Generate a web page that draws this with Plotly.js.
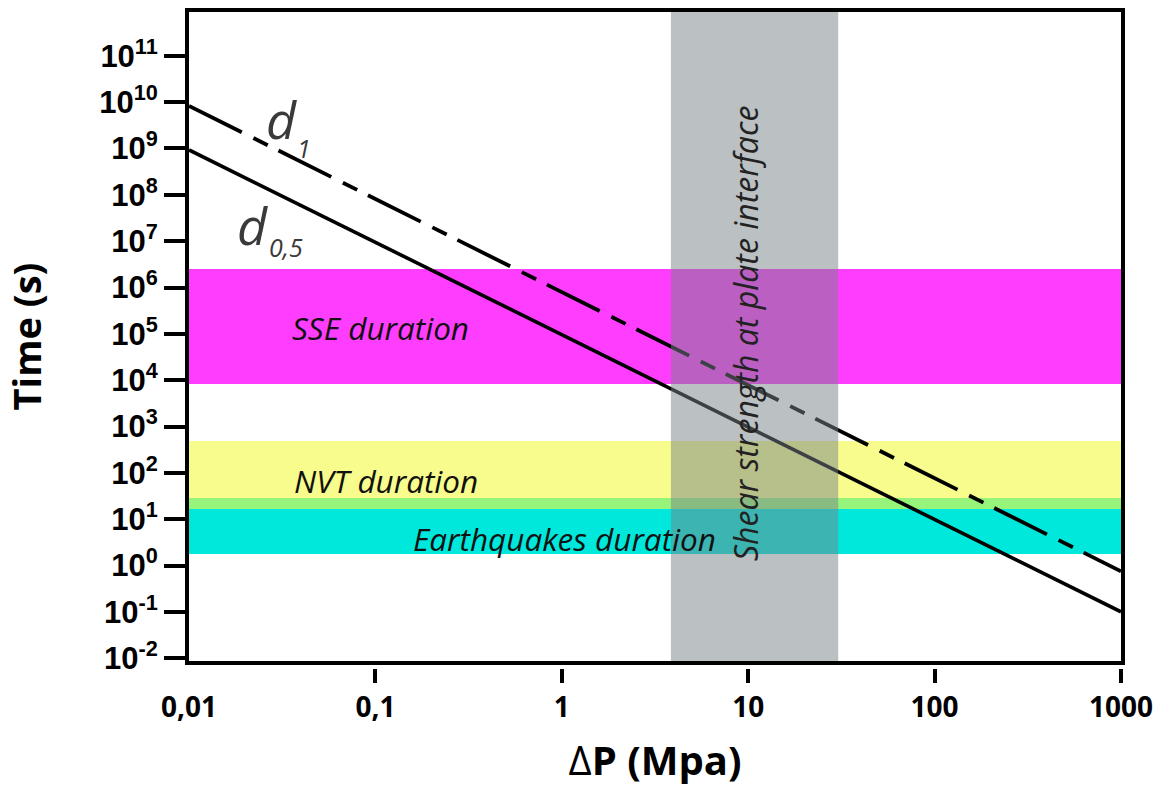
<!DOCTYPE html>
<html>
<head>
<meta charset="utf-8">
<script src="https://cdn.plot.ly/plotly-3.0.1.min.js"></script>
<style>html,body{margin:0;padding:0;background:#fff}#chart{width:1162px;height:787px}</style>
</head>
<body>
<div id="chart"></div>
<script>
// ---- data ----
const dP = [0.01, 1000];                 // ΔP (MPa)
const timeD05 = [9.3e8, 0.1];            // d0,5 curve (s)
const timeD1 = [8.3e9, 0.75];            // d1 curve (s)
const bandNames = ['SSE duration', 'NVT duration', 'Earthquakes duration'];
const bandLow = [8.3e3, 16.6, 1.77];     // s
const bandHigh = [2.5e6, 486, 28.6];     // s
const bandColors = ['#FF3DFF', '#F7FC8C', '#00E8DC'];
const overlapColor = '#96F47A';
const shearRange = [3.85, 30.4];         // MPa
const shearLabel = 'Shear strength at plate interface';
const xTickVals = [0.01, 0.1, 1, 10, 100, 1000];
const xTickText = ['0,01', '0,1', '1', '10', '100', '1000'];
const yTickExp = [-2, -1, 0, 1, 2, 3, 4, 5, 6, 7, 8, 9, 10, 11];

const yTickVals = yTickExp.map(e => Math.pow(10, e));
const yTickText = yTickExp.map(e => '10<sup>' + e + '</sup>');

const traces = [
  {x: dP, y: timeD05, xaxis: 'x', yaxis: 'y', mode: 'lines', name: 'd0,5',
   line: {color: '#000', width: 3.6}, hoverinfo: 'skip', showlegend: false},
  {x: dP, y: timeD1, xaxis: 'x', yaxis: 'y', mode: 'lines', name: 'd1',
   line: {color: '#000', width: 3.8, dash: '59px,13px,16px,12px'}, hoverinfo: 'skip', showlegend: false},
  {x: dP, y: timeD05, xaxis: 'x2', yaxis: 'y', mode: 'lines', opacity: 0,
   line: {width: 0}, hoverinfo: 'skip', showlegend: false},
  {x: dP, y: timeD05, xaxis: 'x3', yaxis: 'y', mode: 'lines', opacity: 0,
   line: {width: 0}, hoverinfo: 'skip', showlegend: false}
];

const shapes = [];
// SSE band
shapes.push({type: 'rect', layer: 'below', xref: 'paper', yref: 'y', x0: 0, x1: 1,
  y0: bandLow[0], y1: bandHigh[0], fillcolor: bandColors[0], line: {width: 0}});
// NVT band (part above overlap)
const ovLow = Math.max(bandLow[1], bandLow[2]);
const ovHigh = Math.min(bandHigh[1], bandHigh[2]);
shapes.push({type: 'rect', layer: 'below', xref: 'paper', yref: 'y', x0: 0, x1: 1,
  y0: ovHigh, y1: bandHigh[1], fillcolor: bandColors[1], line: {width: 0}});
// Earthquake band (part below overlap)
shapes.push({type: 'rect', layer: 'below', xref: 'paper', yref: 'y', x0: 0, x1: 1,
  y0: bandLow[2], y1: ovLow, fillcolor: bandColors[2], line: {width: 0}});
// overlap
shapes.push({type: 'rect', layer: 'below', xref: 'paper', yref: 'y', x0: 0, x1: 1,
  y0: ovLow, y1: ovHigh, fillcolor: overlapColor, line: {width: 0}});
// shear strength band, on top
shapes.push({type: 'rect', layer: 'above', xref: 'x', yref: 'paper', x0: shearRange[0], x1: shearRange[1],
  y0: 0.0923, y1: 1, fillcolor: 'rgba(120,130,135,0.5)', line: {width: 0}});

const italic = (size, color) => ({family: 'Open Sans', size: size, style: 'italic', color: color});
const annotations = [
  {text: 'd', x: -1.506, y: 9.657, font: italic(52, '#3a3a3a')},
  {text: '1', x: -1.385, y: 9.0, font: italic(25, '#3a3a3a')},
  {text: 'd', x: -1.662, y: 7.37, font: italic(52, '#3a3a3a')},
  {text: '0,5', x: -1.48, y: 6.88, font: italic(25, '#3a3a3a')},
  {text: bandNames[0], x: -0.97, y: 5.147, font: italic(31.5, '#111')},
  {text: bandNames[1], x: -0.943, y: 1.846, font: italic(31.5, '#111')},
  {text: bandNames[2], x: 0.017, y: 0.594, font: italic(31.5, '#111')},
  {text: shearLabel, x: 0.983, y: 4.996, textangle: -90, font: italic(32, '#222')}
].map(a => Object.assign({xref: 'x', yref: 'y', showarrow: false, xanchor: 'center', yanchor: 'middle'}, a));

const layout = {
  width: 1162, height: 787,
  margin: {l: 189, r: 41, t: 12, b: 60},
  paper_bgcolor: '#fff', plot_bgcolor: '#fff',
  showlegend: false,
  xaxis: {type: 'log', range: [-2, 3], showgrid: false, zeroline: false,
    showline: true, mirror: true, linecolor: '#000', linewidth: 4,
    ticks: '', showticklabels: false},
  xaxis2: {type: 'log', range: [-2, 3], overlaying: 'x', anchor: 'free', position: 0.0825, side: 'bottom',
    showgrid: false, zeroline: false, showline: false,
    tickmode: 'array', tickvals: xTickVals, ticktext: xTickText,
    ticks: 'outside', ticklen: 14, tickwidth: 4, tickcolor: 'rgba(0,0,0,0)',
    tickfont: {family: 'Open Sans', size: 28, weight: 'bold', color: '#000'},
    title: {text: '<span style="font-weight:normal">Δ</span>P (Mpa)', standoff: 27,
      font: {family: 'Open Sans', size: 40, weight: 'bold', color: '#000'}}},
  xaxis3: {type: 'log', range: [-2, 3], overlaying: 'x', anchor: 'free', position: 0.0825, side: 'bottom',
    showgrid: false, zeroline: false, showline: false,
    tickmode: 'array', tickvals: xTickVals.slice(1), ticktext: xTickText.slice(1),
    ticks: 'outside', ticklen: 14, tickwidth: 4, tickcolor: '#000', showticklabels: false},
  yaxis: {type: 'log', range: [-2.06, 11.945], domain: [0.0923, 1], showgrid: false, zeroline: false,
    showline: true, mirror: true, linecolor: '#000', linewidth: 4,
    tickmode: 'array', tickvals: yTickVals, ticktext: yTickText,
    ticks: 'outside', ticklen: 21, tickwidth: 4, tickcolor: '#000',
    tickfont: {family: 'Liberation Sans', size: 31, weight: 'bold', color: '#000'},
    title: {text: 'Time (s)', standoff: 49,
      font: {family: 'Open Sans', size: 38, weight: 'bold', color: '#000'}}},
  shapes: shapes,
  annotations: annotations
};

Plotly.newPlot('chart', traces, layout, {displayModeBar: false, staticPlot: true});
</script>
</body>
</html>
